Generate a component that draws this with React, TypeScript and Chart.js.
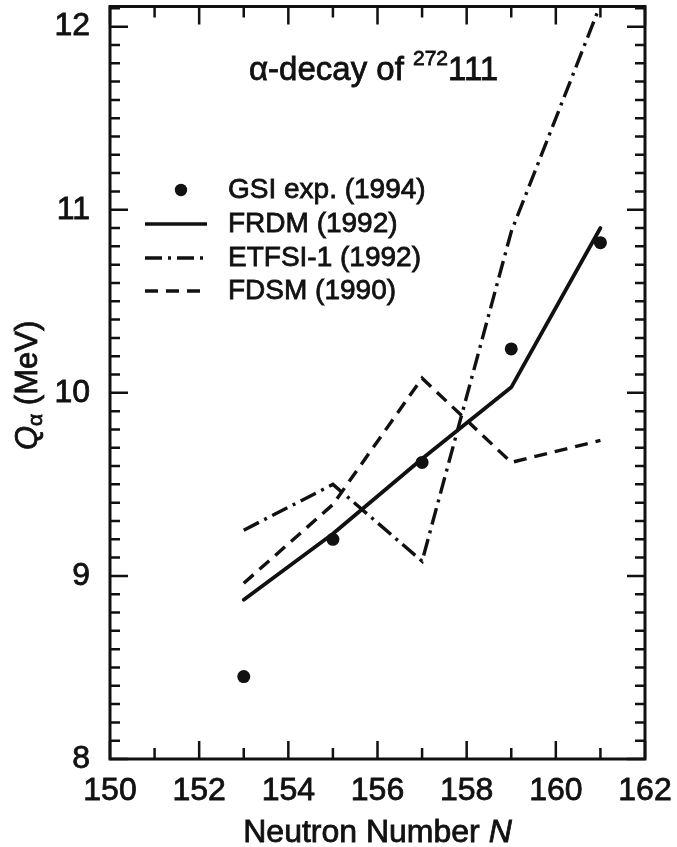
import React, { useEffect, useRef } from "react";
import { Chart, registerables } from "chart.js";

Chart.register(...registerables);

// ---- data ----
const neutronNumbers = [153, 155, 157, 159, 161];
const gsiExp = [8.45, 9.2, 9.62, 10.24, 10.82];
const frdm = [8.87, 9.23, 9.64, 10.03, 10.9];
const etfsi1 = [9.25, 9.5, 9.08, 10.88, 12.12];
const fdsm = [8.96, 9.39, 10.08, 9.62, 9.74];

const xTickLabels = [150, 152, 154, 156, 158, 160, 162];
const yTickLabels = [8, 9, 10, 11, 12];
const seriesNames = ["GSI exp. (1994)", "FRDM (1992)", "ETFSI-1 (1992)", "FDSM (1990)"];

const INK = "#111";
const FONT = "'Liberation Sans', Arial, Helvetica, sans-serif";
const TEXT_STROKE = 0.8;

const toPts = (ys: number[]) => neutronNumbers.map((x, i) => ({ x, y: ys[i] }));

const ETFSI_DASH = [17, 6, 3, 6];
const FDSM_DASH = [13, 8];

const decorPlugin = {
  id: "decor",
  afterDraw(chart: any) {
    const { ctx, chartArea } = chart;
    const xs = chart.scales.x;
    const ys = chart.scales.y;
    const { left, right, top, bottom } = chartArea;
    ctx.save();
    ctx.strokeStyle = INK;
    ctx.fillStyle = INK;

    // frame
    ctx.lineWidth = 3;
    ctx.strokeRect(left, top, right - left, bottom - top);

    // inward tick marks
    ctx.lineWidth = 2.5;
    ctx.beginPath();
    for (let v = xs.min; v <= xs.max + 1e-9; v += 1) {
      const px = xs.getPixelForValue(v);
      const len = Math.round(v) % 2 === 0 ? 18 : 11;
      ctx.moveTo(px, bottom);
      ctx.lineTo(px, bottom - len);
      ctx.moveTo(px, top);
      ctx.lineTo(px, top + len);
    }
    for (let k = 0; k <= Math.floor((ys.max - ys.min) * 10 + 1e-6); k++) {
      const v = ys.min + k / 10;
      const py = ys.getPixelForValue(v);
      const len = k % 10 === 0 ? 18 : 10;
      ctx.moveTo(left, py);
      ctx.lineTo(left + len, py);
      ctx.moveTo(right, py);
      ctx.lineTo(right - len, py);
    }
    ctx.stroke();

    const txt = (s: string, x: number, y: number) => {
      ctx.lineWidth = TEXT_STROKE;
      ctx.fillText(s, x, y);
      ctx.strokeText(s, x, y);
    };

    // y axis title: Q_alpha (MeV)
    ctx.save();
    ctx.translate(37, 450);
    ctx.rotate(-Math.PI / 2);
    ctx.textAlign = "left";
    ctx.textBaseline = "alphabetic";
    let cx = 0;
    ctx.font = `italic 31px ${FONT}`;
    txt("Q", cx, 0);
    cx += ctx.measureText("Q").width;
    ctx.font = `21px ${FONT}`;
    txt("α", cx, 5);
    cx += ctx.measureText("α").width;
    ctx.font = `31px ${FONT}`;
    txt(" (MeV)", cx, 0);
    ctx.restore();

    // x axis title: Neutron Number N
    ctx.textBaseline = "alphabetic";
    ctx.textAlign = "left";
    ctx.font = `32px ${FONT}`;
    const t1 = "Neutron Number ";
    const w1 = ctx.measureText(t1).width;
    ctx.font = `italic 32px ${FONT}`;
    const w2 = ctx.measureText("N").width;
    const xc = (left + right) / 2;
    const sx = xc - (w1 + w2) / 2;
    ctx.font = `32px ${FONT}`;
    txt(t1, sx, 842);
    ctx.font = `italic 32px ${FONT}`;
    txt("N", sx + w1, 842);

    // annotation: alpha-decay of 272 111
    let ax = 249;
    ctx.font = `33px ${FONT}`;
    txt("α-decay of ", ax, 80);
    ax += ctx.measureText("α-decay of ").width;
    ctx.font = `21px ${FONT}`;
    txt("272", ax, 65);
    ax += ctx.measureText("272").width;
    ctx.font = `33px ${FONT}`;
    txt("111", ax, 80);

    // legend
    const rows = [190, 224, 258, 291];
    const x0 = 145;
    const x1 = 207;
    ctx.font = `28px ${FONT}`;
    ctx.textBaseline = "middle";
    seriesNames.forEach((name, i) => {
      txt(name, 228, rows[i]);
    });
    ctx.beginPath();
    ctx.arc(181, rows[0], 6.2, 0, Math.PI * 2);
    ctx.fill();
    const drawSample = (y: number, dash: number[]) => {
      ctx.beginPath();
      ctx.setLineDash(dash);
      ctx.lineWidth = 3.5;
      ctx.moveTo(x0, y);
      ctx.lineTo(x1, y);
      ctx.stroke();
    };
    drawSample(rows[1], []);
    drawSample(rows[2], ETFSI_DASH);
    drawSample(rows[3], FDSM_DASH);
    ctx.setLineDash([]);
    ctx.restore();
  },
};

export default function App() {
  const ref = useRef<HTMLCanvasElement | null>(null);

  useEffect(() => {
    document.body.style.margin = "0";
    const canvas = ref.current;
    if (!canvas) return;
    const chart = new Chart(canvas, {
      type: "line",
      data: {
        datasets: [
          {
            label: seriesNames[0],
            data: toPts(gsiExp),
            showLine: false,
            pointRadius: 6.5,
            pointBackgroundColor: INK,
            pointBorderColor: INK,
            pointBorderWidth: 0,
            borderColor: INK,
          },
          {
            label: seriesNames[1],
            data: toPts(frdm),
            borderColor: INK,
            borderWidth: 3.8,
            pointRadius: 0,
            tension: 0,
            borderCapStyle: "round",
            borderJoinStyle: "round",
          },
          {
            label: seriesNames[2],
            data: toPts(etfsi1),
            borderColor: INK,
            borderWidth: 3.4,
            borderDash: ETFSI_DASH,
            pointRadius: 0,
            tension: 0,
          },
          {
            label: seriesNames[3],
            data: toPts(fdsm),
            borderColor: INK,
            borderWidth: 3.4,
            borderDash: FDSM_DASH,
            pointRadius: 0,
            tension: 0,
          },
        ],
      },
      options: {
        responsive: false,
        animation: false,
        devicePixelRatio: 1,
        layout: { padding: { left: 0, right: 32, top: 4, bottom: 0 } },
        plugins: {
          legend: { display: false },
          tooltip: { enabled: false },
          title: { display: false },
        },
        scales: {
          x: {
            type: "linear",
            position: "bottom",
            min: 150,
            max: 162,
            grid: { display: false, drawTicks: false },
            border: { display: false },
            afterBuildTicks: (s: any) => {
              s.ticks = xTickLabels.map((v) => ({ value: v }));
            },
            afterFit: (s: any) => {
              s.height = 88;
              s.paddingLeft = 0;
              s.paddingRight = 0;
            },
            ticks: {
              color: INK,
              padding: 13,
              maxRotation: 0,
              autoSkip: false,
              textStrokeColor: INK,
              textStrokeWidth: TEXT_STROKE,
              font: { family: FONT, size: 32 },
            },
          },
          y: {
            type: "linear",
            min: 8,
            max: 12.11,
            grid: { display: false, drawTicks: false },
            border: { display: false },
            afterBuildTicks: (s: any) => {
              s.ticks = yTickLabels.map((v) => ({ value: v }));
            },
            afterFit: (s: any) => {
              s.width = 110;
              s.paddingTop = 0;
              s.paddingBottom = 0;
            },
            ticks: {
              color: INK,
              padding: 20,
              autoSkip: false,
              textStrokeColor: INK,
              textStrokeWidth: TEXT_STROKE,
              font: { family: FONT, size: 32 },
            },
          },
        },
      },
      plugins: [decorPlugin],
    } as any);
    return () => chart.destroy();
  }, []);

  return (
    <div style={{ width: 677, height: 847, background: "#fff" }}>
      <canvas ref={ref} width={677} height={847} style={{ display: "block", width: 677, height: 847 }} />
    </div>
  );
}
